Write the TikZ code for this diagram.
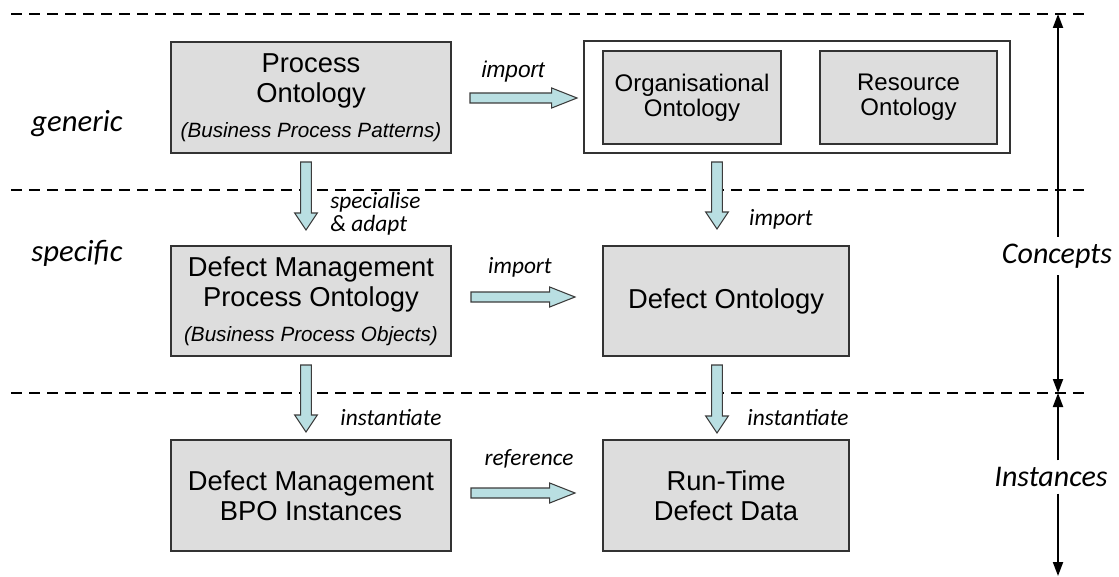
\documentclass[tikz,border=0pt]{standalone}
\usepackage{fontspec}
\setmainfont{Liberation Sans}
\newfontfamily\labfont{Carlito}
\usetikzlibrary{calc,arrows.meta}
\definecolor{boxgray}{RGB}{221,221,221}
\definecolor{arrowfill}{RGB}{185,223,226}
\definecolor{arrowline}{RGB}{60,60,60}
\tikzset{
  box/.style={draw=black!80, line width=1.1pt, fill=boxgray, align=center, inner sep=0pt,
    font=\fontsize{20.5}{22.5}\selectfont},
  smallbox/.style={box, font=\fontsize{18}{18.75}\selectfont},
  lbl/.style={font=\labfont\itshape\fontsize{17.5}{15}\selectfont, inner sep=0pt},
  biglbl/.style={font=\labfont\itshape\fontsize{23}{26}\selectfont, inner sep=0pt},
  scalelbl/.style={font=\labfont\itshape\fontsize{22.5}{26}\selectfont, fill=white, inner xsep=1pt, inner ysep=5pt},
  dashline/.style={line width=2.2pt, dash pattern=on 8.25pt off 5.25pt},
  scalearrow/.style={line width=1.5pt, -{Triangle[width=7.5pt,length=10.5pt]}},
  blockarrow/.style n args={3}{draw=arrowline, fill=arrowfill, line width=0.8pt, line join=miter,
    to path={
      -- ($(\tikztostart)!#1!90:(\tikztotarget)$)
      -- ($($(\tikztotarget)!#3!(\tikztostart)$)!#1!90:(\tikztotarget)$)
      -- ($($(\tikztotarget)!#3!(\tikztostart)$)!#2!90:(\tikztotarget)$)
      -- (\tikztotarget)
      -- ($($(\tikztotarget)!#3!(\tikztostart)$)!#2!-90:(\tikztotarget)$)
      -- ($($(\tikztotarget)!#3!(\tikztostart)$)!#1!-90:(\tikztotarget)$)
      -- ($(\tikztostart)!#1!-90:(\tikztotarget)$)
      -- cycle}},
  harrow/.style={blockarrow={3.75pt}{7.5pt}{19pt}},
  varrow/.style={blockarrow={4pt}{8.5pt}{12.75pt}}
}
\begin{document}
\begin{tikzpicture}[x=0.75pt,y=-0.75pt]
\useasboundingbox (0,0) rectangle (1119,577);

% dashed separators
\coordinate (d1a) at (11,14);  \coordinate (d1b) at (1087,14);
\coordinate (d2a) at (11,190); \coordinate (d2b) at (1087,190);
\coordinate (d3a) at (11,393); \coordinate (d3b) at (1087,393);
\draw[dashline] (d1a) -- (d1b);
\draw[dashline] (d2a) -- (d2b);
\draw[dashline] (d3a) -- (d3b);

% level labels
\node[biglbl] (generic) at (77,124) {generic};
\node[biglbl] (specific) at (77,253) {specific};

% boxes
\node[box, minimum width=210pt, minimum height=83.25pt] (po) at (311,97.5)
  {Process\\Ontology\\[4pt]{\fontsize{15.5}{18}\itshape (Business Process Patterns)}};
\node[draw=black!80, line width=1.1pt, fill=white, minimum width=319.5pt, minimum height=84pt] (outer) at (797,97) {};
\node[smallbox, minimum width=133.5pt, minimum height=69.75pt] (org) at (692,97.5) {Organisational\\Ontology};
\node[smallbox, minimum width=132.75pt, minimum height=69.75pt] (res) at (908.5,97.5) {Resource\\Ontology};

\node[box, minimum width=210pt, minimum height=82.5pt] (dmpo) at (311,301)
  {Defect Management\\Process Ontology\\[4pt]{\fontsize{15.5}{18}\itshape (Business Process Objects)}};
\node[box, minimum width=184.5pt, minimum height=82.5pt] (do) at (726,301) {Defect Ontology};

\node[box, minimum width=210pt, minimum height=83.25pt] (bpo) at (311,495.5) {Defect Management\\BPO Instances};
\node[box, minimum width=184.5pt, minimum height=83.25pt] (rt) at (726,495.5) {Run-Time\\Defect Data};

% block arrows
\coordinate (h1s) at (470,98);  \coordinate (h1t) at (577,98);
\coordinate (h2s) at (471,297); \coordinate (h2t) at (575,297);
\coordinate (h3s) at (471,493); \coordinate (h3t) at (575,493);
\coordinate (v1s) at (306,162); \coordinate (v1t) at (306,230);
\coordinate (v2s) at (306,365); \coordinate (v2t) at (306,432);
\coordinate (v3s) at (717,162); \coordinate (v3t) at (717,229);
\coordinate (v4s) at (717,365); \coordinate (v4t) at (717,433);
\draw[harrow] (h1s) to (h1t);
\draw[harrow] (h2s) to (h2t);
\draw[harrow] (h3s) to (h3t);
\draw[varrow] (v1s) to (v1t);
\draw[varrow] (v2s) to (v2t);
\draw[varrow] (v3s) to (v3t);
\draw[varrow] (v4s) to (v4t);

% arrow labels
\node[inner sep=0pt, font=\fontsize{17}{20}\itshape] (limp1) at (513,72) {import};
\node[lbl, anchor=west, align=left, font=\labfont\itshape\fontsize{17.5}{17.5}\selectfont] (lspec) at (330,214) {specialise\\\& adapt};
\node[lbl] (limp2) at (520,267) {import};
\node[lbl] (limp3) at (781,219) {import};
\node[lbl] (linst1) at (391,418) {instantiate};
\node[lbl] (linst2) at (798,418) {instantiate};
\node[lbl] (lref) at (529,459) {reference};

% scale on the right
\coordinate (ctop) at (1058,14);
\coordinate (cbot) at (1058,393);
\coordinate (itop) at (1058,393);
\coordinate (ibot) at (1058,576);
\node[scalelbl] (concepts) at (1057,256) {Concepts};
\node[scalelbl] (instances) at (1051,477) {Instances};
\draw[scalearrow] (concepts.north -| ctop) -- (ctop);
\draw[scalearrow] (concepts.south -| cbot) -- (cbot);
\draw[scalearrow] (instances.north -| itop) -- (itop);
\draw[scalearrow] (instances.south -| ibot) -- (ibot);
\end{tikzpicture}
\end{document}
